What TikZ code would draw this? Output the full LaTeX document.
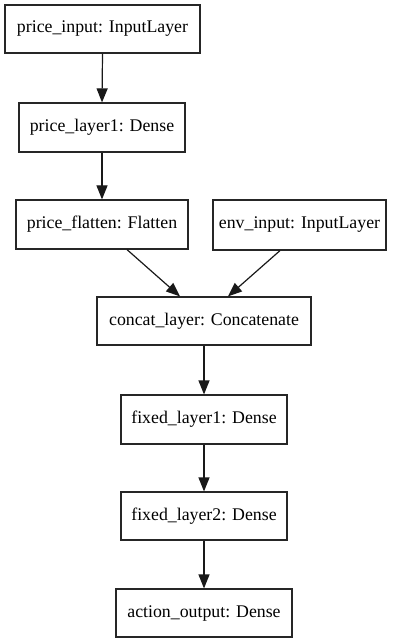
\documentclass[tikz,border=0pt]{standalone}
\usepackage{fontspec}
\setmainfont{Liberation Serif}
\usetikzlibrary{arrows.meta}
\begin{document}
\begin{tikzpicture}[x=1pt,y=-1pt,
  layer/.style={draw=black!85, line width=1.2pt, inner sep=0pt, font=\rmfamily\fontsize{17.8}{21}\selectfont},
  conn/.style={line width=1.2pt, draw=black!90, -{Triangle[length=14pt,width=11pt]}}]
\useasboundingbox (0,0) rectangle (403,644);
\node[layer, minimum width=195pt, minimum height=48pt] (pi) at (102.5,29) {price\_input: InputLayer};
\node[layer, minimum width=166pt, minimum height=49pt] (pl) at (102,127.5) {price\_layer1: Dense};
\node[layer, minimum width=172pt, minimum height=49pt] (pf) at (102,224.5) {price\_flatten: Flatten};
\node[layer, minimum width=173pt, minimum height=50pt] (ei) at (299.5,225) {env\_input: InputLayer};
\node[layer, minimum width=214pt, minimum height=48pt] (cl) at (204,321) {concat\_layer: Concatenate};
\node[layer, minimum width=166pt, minimum height=49pt] (f1) at (204,419.5) {fixed\_layer1: Dense};
\node[layer, minimum width=166pt, minimum height=48pt] (f2) at (204,516) {fixed\_layer2: Dense};
\node[layer, minimum width=176pt, minimum height=48pt] (ao) at (204,613) {action\_output: Dense};
\draw[conn] (pi.south) -- (pl.north);
\draw[conn] (pl.south) -- (pf.north);
\draw[conn] ([xshift=25pt]pf.south) -- ([xshift=-24pt]cl.north);
\draw[conn] ([xshift=-19.5pt]ei.south) -- ([xshift=24pt]cl.north);
\draw[conn] (cl.south) -- (f1.north);
\draw[conn] (f1.south) -- (f2.north);
\draw[conn] (f2.south) -- (ao.north);
\end{tikzpicture}
\end{document}
